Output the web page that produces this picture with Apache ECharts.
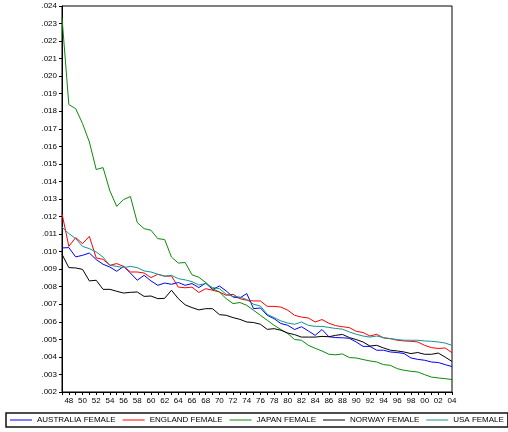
<!DOCTYPE html>
<html>
<head>
<meta charset="utf-8">
<style>
  html, body { margin: 0; padding: 0; background: #fff; }
  #chart { width: 508px; height: 432px; }
</style>
<script src="https://cdn.jsdelivr.net/npm/echarts@6/dist/echarts.min.js"></script>
</head>
<body>
<div id="chart"></div>
<script>
// Female mortality rates by year, 1947-2004
const years = [
  1947, 1948, 1949, 1950, 1951, 1952, 1953, 1954, 1955, 1956,
  1957, 1958, 1959, 1960, 1961, 1962, 1963, 1964, 1965, 1966,
  1967, 1968, 1969, 1970, 1971, 1972, 1973, 1974, 1975, 1976,
  1977, 1978, 1979, 1980, 1981, 1982, 1983, 1984, 1985, 1986,
  1987, 1988, 1989, 1990, 1991, 1992, 1993, 1994, 1995, 1996,
  1997, 1998, 1999, 2000, 2001, 2002, 2003, 2004
];

const australiaFemale = [
  .01021, .01023, .00970, .00979, .00992, .00955, .00928, .00912, .00888, .00916,
  .00878, .00837, .00865, .00833, .00808, .00821, .00814, .00824, .00808, .00818,
  .00795, .00821, .00784, .00804, .00776, .00741, .00736, .00761, .00675, .00679,
  .00637, .00618, .00590, .00580, .00556, .00572, .00548, .00523, .00556, .00515,
  .00510, .00509, .00506, .00485, .00460, .00460, .00438, .00438, .00428, .00425,
  .00419, .00394, .00386, .00381, .00371, .00368, .00356, .00345
];

const englandFemale = [
  .01217, .01030, .01080, .01046, .01087, .00964, .00956, .00922, .00932, .00916,
  .00884, .00884, .00878, .00852, .00871, .00860, .00861, .00798, .00794, .00798,
  .00767, .00789, .00780, .00770, .00751, .00757, .00732, .00723, .00719, .00719,
  .00688, .00688, .00684, .00666, .00637, .00627, .00622, .00599, .00613, .00592,
  .00578, .00572, .00567, .00546, .00539, .00519, .00529, .00508, .00504, .00495,
  .00491, .00489, .00485, .00466, .00453, .00448, .00451, .00424
];

const japanFemale = [
  .02334, .01838, .01815, .01730, .01625, .01468, .01479, .01346, .01258, .01297,
  .01314, .01166, .01131, .01122, .01074, .01069, .00969, .00935, .00938, .00868,
  .00854, .00824, .00789, .00770, .00732, .00704, .00710, .00694, .00666, .00637,
  .00609, .00580, .00556, .00533, .00499, .00495, .00466, .00449, .00434, .00415,
  .00412, .00417, .00396, .00394, .00385, .00377, .00371, .00356, .00352, .00333,
  .00324, .00318, .00314, .00299, .00285, .00280, .00276, .00271
];

const norwayFemale = [
  .00985, .00909, .00907, .00899, .00833, .00837, .00785, .00785, .00774, .00764,
  .00768, .00770, .00745, .00747, .00732, .00734, .00780, .00732, .00697, .00681,
  .00668, .00675, .00675, .00641, .00637, .00624, .00614, .00599, .00596, .00586,
  .00557, .00561, .00552, .00536, .00527, .00513, .00513, .00513, .00517, .00515,
  .00523, .00528, .00510, .00499, .00485, .00462, .00466, .00451, .00438, .00434,
  .00428, .00419, .00425, .00415, .00415, .00422, .00399, .00374
];

const usaFemale = [
  .01140, .01103, .01074, .01030, .01017, .00998, .00969, .00922, .00916, .00909,
  .00916, .00909, .00890, .00884, .00871, .00860, .00865, .00846, .00839, .00829,
  .00810, .00818, .00795, .00789, .00757, .00745, .00741, .00727, .00700, .00690,
  .00643, .00624, .00605, .00593, .00586, .00599, .00580, .00574, .00574, .00568,
  .00562, .00558, .00542, .00529, .00519, .00513, .00519, .00510, .00504, .00499,
  .00495, .00495, .00495, .00491, .00489, .00485, .00479, .00466
];

const seriesNames = ['AUSTRALIA FEMALE', 'ENGLAND FEMALE', 'JAPAN FEMALE', 'NORWAY FEMALE', 'USA FEMALE'];
const seriesData = [australiaFemale, englandFemale, japanFemale, norwayFemale, usaFemale];
const seriesColors = ['#0000ff', '#ff0000', '#0a8a0a', '#000000', '#139494'];

const FONT = 'Liberation Sans, Arial, sans-serif';

const chart = echarts.init(document.getElementById('chart'), null, { renderer: 'canvas' });

chart.setOption({
  animation: false,
  backgroundColor: '#ffffff',
  grid: {
    left: 62, top: 6, right: 56, bottom: 40,
    show: true, borderColor: '#000', borderWidth: 1, backgroundColor: 'transparent'
  },
  legend: {
    left: 6, top: 413,
    padding: [3, 4, 3, 4],
    borderColor: '#111', borderWidth: 1.5,
    backgroundColor: '#fff',
    icon: 'rect',
    itemWidth: 22, itemHeight: 1,
    itemGap: 7,
    textStyle: { fontFamily: FONT, fontSize: 8, color: '#000' },
    data: seriesNames
  },
  xAxis: {
    type: 'category',
    data: years,
    boundaryGap: false,
    axisLine: { lineStyle: { color: '#000', width: 1 } },
    axisTick: { interval: 0, length: 3, lineStyle: { color: '#000' } },
    axisLabel: {
      interval: (idx) => idx % 2 === 1,
      formatter: (v) => String(v).slice(2),
      fontFamily: FONT, fontSize: 8, color: '#000', margin: 5
    },
    splitLine: { show: false }
  },
  yAxis: {
    type: 'value',
    min: 0.002, max: 0.024, interval: 0.001,
    axisLine: { show: true, lineStyle: { color: '#000', width: 1 } },
    axisTick: { show: true, length: 3, lineStyle: { color: '#000' } },
    axisLabel: {
      formatter: (v) => v.toFixed(3).replace(/^0/, ''),
      fontFamily: FONT, fontSize: 8, color: '#000', margin: 5
    },
    splitLine: { show: false }
  },
  series: seriesNames.map((name, i) => ({
    name: name,
    type: 'line',
    data: seriesData[i],
    symbol: 'none',
    lineStyle: { color: seriesColors[i], width: 1 },
    itemStyle: { color: seriesColors[i] }
  }))
});
</script>
</body>
</html>
